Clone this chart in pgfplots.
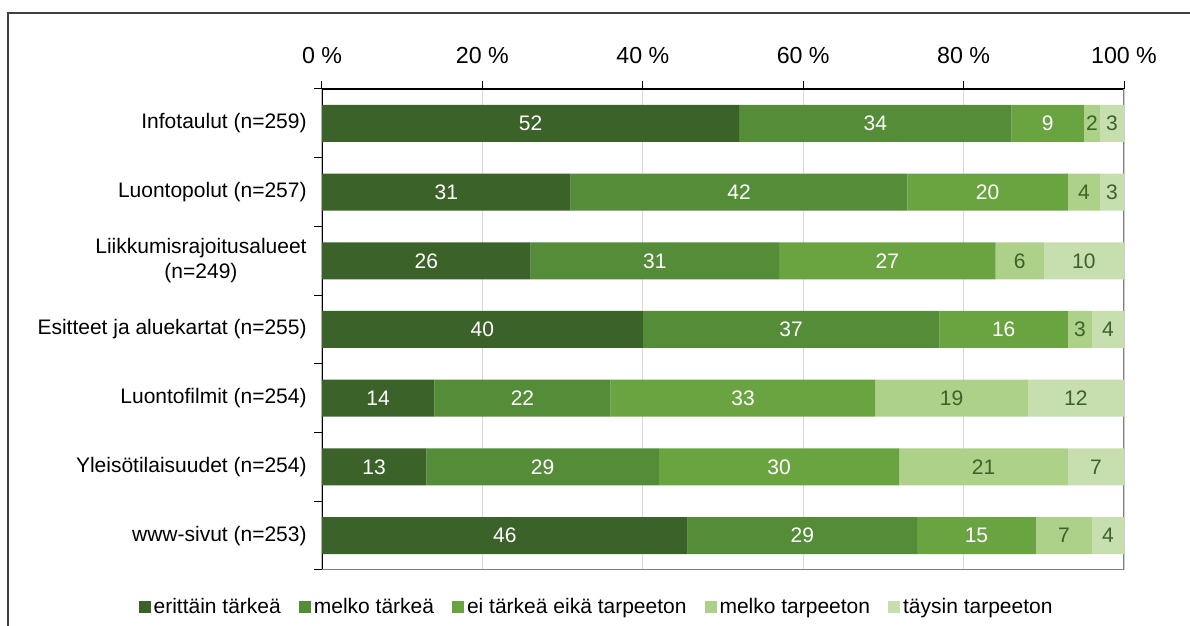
\documentclass[border=0pt]{standalone}
\usepackage{pgfplots}
\pgfplotsset{compat=1.18}
\usepackage{pgfplotstable}
\usepackage{fontspec}
\setmainfont{Liberation Sans}

\definecolor{c1}{HTML}{3B6229}
\definecolor{c2}{HTML}{548C37}
\definecolor{c3}{HTML}{6AA441}
\definecolor{c4}{HTML}{ADD188}
\definecolor{c5}{HTML}{C7DFAE}
\definecolor{gridc}{HTML}{D9D9D9}

% pos: 6 = top row
\pgfplotstableread{
pos a    b    c    d   e
6   52   34   9    2   3
5   31   42   20   4   3
4   26   31   27   6   10
3   40   37   16   3   4
2   14   22   33   19  12
1   13   29   30   21  7
0   45.6 28.6 14.8 7   4
}\kysely

\pgfplotsset{
  sqlegend/.style={legend image code/.code={\fill[##1] (0pt,-3pt) rectangle (6pt,3pt);}},
}

\begin{document}
\fontsize{10.5}{12.6}\selectfont
\begin{tikzpicture}[font=\fontsize{10.5}{12.6}\selectfont]
\useasboundingbox (0,0) rectangle (595pt,313pt);
\draw[line width=0.75pt, black!75] (4pt,-20pt) |- (620pt,306.5pt);
\begin{axis}[
  at={(161pt,28pt)}, anchor=south west,
  scale only axis, width=401pt, height=240.5pt,
  xbar stacked, bar width=18.5pt,
  xmin=0, xmax=100, ymin=-0.5, ymax=6.5,
  axis line style={draw=none},
  xtick={0,20,...,100},
  xticklabels={0 \%,20 \%,40 \%,60 \%,80 \%,100 \%},
  xticklabel style={yshift=5pt, font=\fontsize{11.6}{13.9}\selectfont},
  xtick pos=right, xticklabel pos=right,
  tick align=outside, major tick length=4pt,
  tick style={black, line width=0.5pt},
  xmajorgrids, grid style={draw=gridc, line width=0.6pt},
  ytick={-0.5,0.5,...,6.5}, yticklabels={},
  ytick pos=left,
  extra y ticks={0,1,...,6},
  extra y tick labels={www-sivut (n=253),Yleisötilaisuudet (n=254),Luontofilmit (n=254),Esitteet ja aluekartat (n=255),{Liikkumisrajoitusalueet\\(n=249)},Luontopolut (n=257),Infotaulut (n=259)},
  extra y tick style={major tick length=0pt},
  yticklabel style={align=center, xshift=-4pt},
  point meta=explicit,
  nodes near coords={\pgfmathprintnumber[fixed,precision=0,assume math mode=true]{\pgfplotspointmeta}},
  every node near coord/.style={anchor=center},
  legend columns=5,
  legend style={at={(0.343,-0.077)}, anchor=center, draw=none, fill=none,
    inner sep=0pt, /tikz/every even column/.append style={column sep=7.5pt},
    nodes={inner sep=1.5pt}},
]
\addplot[fill=c1, draw=none, sqlegend, every node near coord/.append style={text=white}]
  table[x=a, y=pos, meta=a] {\kysely};
\addlegendentry{erittäin tärkeä}
\addplot[fill=c2, draw=none, sqlegend, every node near coord/.append style={text=white}]
  table[x=b, y=pos, meta=b] {\kysely};
\addlegendentry{melko tärkeä}
\addplot[fill=c3, draw=none, sqlegend, every node near coord/.append style={text=white}]
  table[x=c, y=pos, meta=c] {\kysely};
\addlegendentry{ei tärkeä eikä tarpeeton}
\addplot[fill=c4, draw=none, sqlegend, every node near coord/.append style={text=c1}]
  table[x=d, y=pos, meta=d] {\kysely};
\addlegendentry{melko tarpeeton}
\addplot[fill=c5, draw=none, sqlegend, every node near coord/.append style={text=c1}]
  table[x=e, y=pos, meta=e] {\kysely};
\addlegendentry{täysin tarpeeton}
\draw[line width=1pt, black!50] (rel axis cs:0,0) -| (rel axis cs:1,1);
\draw[line width=0.75pt, black] (rel axis cs:0,0) |- (rel axis cs:1,1);
\end{axis}
\end{tikzpicture}
\end{document}
